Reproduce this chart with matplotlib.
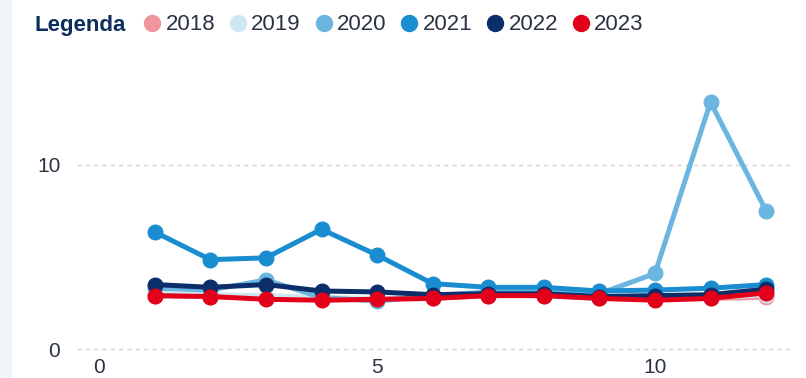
import matplotlib
matplotlib.use("Agg")
import matplotlib.pyplot as plt
from matplotlib.lines import Line2D
from matplotlib.patches import Rectangle

plt.rcParams['font.family'] = ['Liberation Sans', 'DejaVu Sans']

months = [1, 2, 3, 4, 5, 6, 7, 8, 9, 10, 11, 12]
years = ["2018", "2019", "2020", "2021", "2022", "2023"]

v2018 = [2.9, 2.85, 2.75, 2.7, 2.7, 2.75, 2.9, 2.9, 2.75, 2.7, 2.75, 2.8]
v2019 = [3.0, 2.95, 2.9, 2.8, 2.75, 2.8, 2.95, 2.95, 2.8, 2.75, 2.8, 2.95]
v2020 = [3.3, 3.2, 3.75, 2.8, 2.6, 2.9, 3.1, 3.1, 3.0, 4.1, 13.4, 7.5]
v2021 = [6.35, 4.85, 4.95, 6.5, 5.1, 3.55, 3.35, 3.35, 3.15, 3.2, 3.3, 3.5]
v2022 = [3.5, 3.35, 3.5, 3.15, 3.1, 2.95, 3.0, 3.0, 2.85, 2.9, 2.95, 3.25]
v2023 = [2.9, 2.85, 2.7, 2.65, 2.7, 2.75, 2.9, 2.9, 2.75, 2.65, 2.75, 3.05]
series = [v2018, v2019, v2020, v2021, v2022, v2023]

colors = ["#f0959e", "#cde8f2", "#6bb6e0", "#1a8dd0", "#0b2e6b", "#e2001a"]
text_color = "#2b3342"

fig = plt.figure(figsize=(8.06, 3.78), dpi=100)
fig.patches.append(Rectangle((0, 0), 11 / 806, 1, transform=fig.transFigure,
                             color="#f0f7fb", zorder=0))
ax = fig.add_axes([77 / 806, 26 / 378, 713 / 806, 272 / 378])

for vals, c in zip(series, colors):
    ax.plot(months, vals, color=c, lw=3.6, marker="o", ms=10.5, solid_capstyle="round")

ax.set_xlim(-0.4, 12.43)
ax.set_ylim(-0.16, 14.6)
ax.set_xticks([0, 5, 10])
ax.set_yticks([0, 10])
ax.grid(axis="y", color="#d4d4d4", ls=(0, (3, 3)), lw=1)
ax.grid(axis="x", visible=False)
for s in ax.spines.values():
    s.set_visible(False)
ax.tick_params(length=0, labelsize=15, labelcolor=text_color, pad=4)
ax.tick_params(axis="y", pad=12)

fig.text(35 / 806, 1 - 25 / 378, "Legenda", fontsize=16, fontweight="bold",
         color="#0d2e5c", va="center", ha="left")
handles = [Line2D([], [], ls="none", marker="o", ms=11.5, color=c) for c in colors]
leg = fig.legend(handles, years, ncol=6, loc="center left",
                 bbox_to_anchor=(141 / 806, 1 - 25 / 378), frameon=False,
                 handlelength=1.0, handletextpad=0.1, columnspacing=0.53,
                 fontsize=16, borderpad=0, borderaxespad=0)
for t in leg.get_texts():
    t.set_color(text_color)

fig.savefig("out.png", dpi=100)
